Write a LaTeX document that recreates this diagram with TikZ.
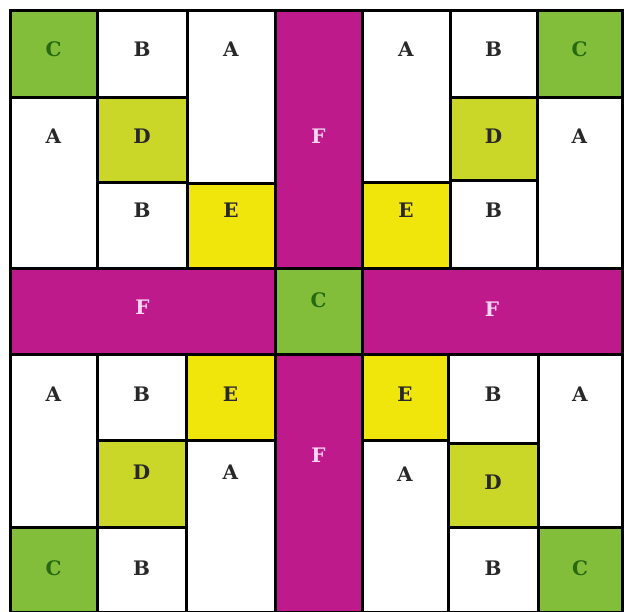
\documentclass[tikz,border=0pt]{standalone}
\usepackage{fontspec}
\setmainfont{DejaVu Serif}
\definecolor{cgreen}{RGB}{130,190,58}
\definecolor{cdgreen}{RGB}{40,105,15}
\definecolor{colive}{RGB}{202,214,40}
\definecolor{cyellow}{RGB}{240,230,12}
\definecolor{cmag}{RGB}{190,26,140}
\definecolor{cpink}{RGB}{252,215,245}
\definecolor{cink}{RGB}{40,40,40}
\tikzset{
  cellline/.style={draw=black, line width=3pt, line join=miter},
  lbl/.style={font=\fontsize{20}{22}\selectfont\bfseries, text=cink, inner sep=0pt, anchor=center},
  lblC/.style={lbl, text=cdgreen},
  lblF/.style={lbl, text=cpink},
  lblN/.style={lbl}
}
% name, x1, y1, x2, y2, fill, label style, text, label y
\newcommand\mycell[9]{%
  \draw[cellline, fill=#6] (#2,#3) rectangle (#4,#5);
  \node[#7] (#1) at ({(#2+#4)/2},#9) {#8};
}
\begin{document}
\begin{tikzpicture}[x=1pt,y=-1pt]
\useasboundingbox (0,0) rectangle (624,611);
\fill[white] (0,0) rectangle (624,611);
\begin{scope}
\clip (0,0) rectangle (624,611);
% top-left quadrant
\mycell{tl1}{10}{10}{97}{97}{cgreen}{lblC}{C}{49}
\mycell{tl2}{97}{10}{187}{97}{white}{lblN}{B}{49}
\mycell{tl3}{187}{10}{275}{183}{white}{lblN}{A}{49}
\mycell{tl4}{10}{97}{97}{268}{white}{lblN}{A}{136}
\mycell{tl5}{97}{97}{187}{182}{colive}{lblN}{D}{136}
\mycell{tl6}{97}{182}{187}{268}{white}{lblN}{B}{210}
\mycell{tl7}{187}{183}{275}{268}{cyellow}{lblN}{E}{210}
% top vertical F
\mycell{ft}{275}{10}{362}{268}{cmag}{lblF}{F}{136}
% top-right quadrant
\mycell{tr1}{362}{10}{450}{182}{white}{lblN}{A}{49}
\mycell{tr2}{450}{10}{537}{97}{white}{lblN}{B}{49}
\mycell{tr3}{537}{10}{622}{97}{cgreen}{lblC}{C}{49}
\mycell{tr4}{450}{97}{537}{180}{colive}{lblN}{D}{136}
\mycell{tr5}{537}{97}{622}{268}{white}{lblN}{A}{136}
\mycell{tr6}{362}{182}{450}{268}{cyellow}{lblN}{E}{210}
\mycell{tr7}{450}{180}{537}{268}{white}{lblN}{B}{210}
% middle band
\mycell{fl}{10}{268}{275}{354}{cmag}{lblF}{F}{307}
\mycell{cc}{275}{268}{362}{354}{cgreen}{lblC}{C}{300}
\mycell{fr}{362}{268}{622}{354}{cmag}{lblF}{F}{309}
% bottom vertical F
\mycell{fb}{275}{354}{362}{612}{cmag}{lblF}{F}{455}
% bottom-left quadrant
\mycell{bl1}{10}{354}{97}{527}{white}{lblN}{A}{394}
\mycell{bl2}{97}{354}{186}{440}{white}{lblN}{B}{394}
\mycell{bl3}{186}{354}{275}{440}{cyellow}{lblN}{E}{394}
\mycell{bl4}{97}{440}{186}{527}{colive}{lblN}{D}{472}
\mycell{bl5}{186}{440}{275}{612}{white}{lblN}{A}{472}
\mycell{bl6}{10}{527}{97}{612}{cgreen}{lblC}{C}{568}
\mycell{bl7}{97}{527}{186}{612}{white}{lblN}{B}{568}
% bottom-right quadrant
\mycell{br1}{362}{354}{448}{440}{cyellow}{lblN}{E}{394}
\mycell{br2}{448}{354}{538}{443}{white}{lblN}{B}{394}
\mycell{br3}{538}{354}{622}{527}{white}{lblN}{A}{394}
\mycell{br4}{362}{440}{448}{612}{white}{lblN}{A}{474}
\mycell{br5}{448}{443}{538}{527}{colive}{lblN}{D}{482}
\mycell{br6}{448}{527}{538}{612}{white}{lblN}{B}{568}
\mycell{br7}{538}{527}{622}{612}{cgreen}{lblC}{C}{568}
\end{scope}
\end{tikzpicture}
\end{document}
